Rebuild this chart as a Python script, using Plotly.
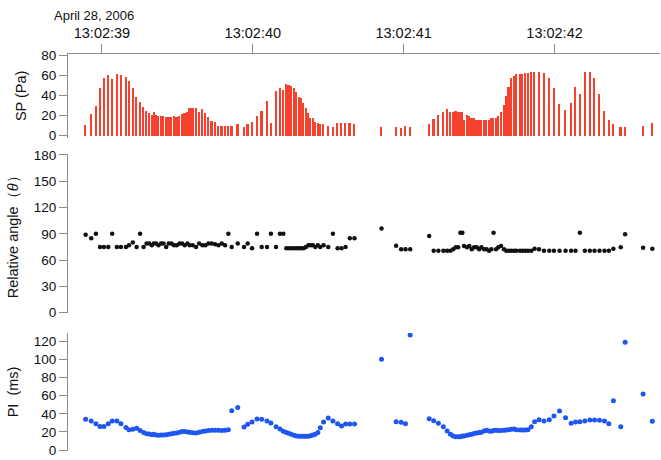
import plotly.graph_objects as go

# Pulse times in ms after 13:02:39 (April 28, 2006)
t_ms = [-108, -71, -40, -13, 13, 42, 68, 99, 126, 159, 179, 205, 230, 253, 276, 296, 313, 331, 344, 359,
        375, 392, 408, 426, 443, 461, 478, 496, 514, 531, 549, 567, 582, 602, 624, 644, 666, 686, 706, 728, 750,
        772, 794, 816, 838, 860, 900, 942, 966, 995, 1028, 1059, 1094, 1120, 1154, 1180, 1202, 1222, 1238, 1255,
        1273, 1289, 1306, 1322, 1337, 1352, 1368, 1383, 1398, 1414, 1431, 1447, 1469, 1500, 1531, 1562, 1588,
        1615, 1643, 1674,
        1853, 1950, 1983, 2012, 2043, 2169, 2199, 2230, 2263, 2288, 2310, 2328, 2345, 2361, 2376, 2389, 2400,
        2420, 2435, 2451, 2467, 2484, 2500, 2515, 2533, 2550, 2566, 2581, 2596, 2612, 2627, 2645, 2665, 2680,
        2696, 2713, 2731, 2746,
        2771, 2788, 2806, 2824, 2846, 2868, 2897, 2930, 2965, 2996, 3033, 3073, 3110, 3139, 3168, 3201, 3234,
        3265, 3298, 3331, 3360, 3390, 3439, 3468, 3587, 3648]

# Sound pressure (Pa)
sp = [10.7, 21.7, 29.7, 48, 58, 60.7, 56.7, 61.4, 60.4, 59, 55, 48, 39, 33.4, 29, 25, 22.4, 20.7, 23.4, 20.7,
      20, 19.4, 19.4, 18.7, 18.7, 18.7, 19.4, 18.7, 19.7, 21.4, 22.4, 23.4, 27.4, 27.4, 27.4, 24, 26.7, 22.4,
      18.4, 14.7, 14,
      10, 10, 10, 10, 10, 11.4, 9, 11.4, 13.4, 20, 24.7, 35, 13, 45, 47.4, 45.4, 52, 50.7, 50, 47.4, 43.4, 39,
      37.4, 32.4, 27.4, 22.4, 18, 17.4, 14, 12.4, 11.7, 11.4, 9.4, 9, 12.4, 12.4, 12.4, 12.4, 11.4,
      9, 9, 8, 9.5, 9, 11.7, 16.7, 20.7, 24, 26.7, 24, 24, 24.7, 23.4, 23.4, 23.4, 15.4, 20.7, 19.4, 18, 17.4,
      16, 16, 16, 16, 16, 15.7, 18, 18, 18, 20, 23.4, 30.7, 39.7, 48.4, 57.4, 59.7, 61.4,
      61.7, 62, 62.4, 62.7, 63.7, 63.7, 64, 62.4, 57.4, 47.4, 32, 25.7, 33, 48.7, 41.4, 64, 64, 58, 41.7,
      24.7, 15.4, 11.4, 8.7, 8.7, 9.4, 12.4]

# Relative angle (degrees)
angle = [89, 85, 90, 75, 75, 75, 90, 75, 75, 75, 77, 80, 75, 90, 75, 79, 79, 77, 79, 79,
         77, 79, 79, 75, 79, 79, 77, 77, 79, 79, 77, 79, 77, 77, 75, 79, 77, 77, 79, 79, 78,
         77, 79, 77, 90, 75, 79, 75, 79, 73.5, 90, 75, 75, 90, 75, 90, 90, 73.5, 73.5, 73.5, 73.5,
         73.5, 73.5, 73.5, 73.5, 75, 77, 77, 77, 75, 77, 75, 77, 75, 90, 73.5, 73.5, 75, 85, 85,
         96, 76.5, 72.3, 72.3, 72.3, 87.5, 70.8, 70.8, 70.8, 70.8, 70.8, 72.3, 74.6, 74.6, 91.3, 91.3,
         76, 74.6, 76, 72.3, 74.6, 74.6, 72.3, 74.6, 72.3, 72.3, 70.8, 72.3, 91.3, 72.3, 74.6, 76,
         72.3, 70.8, 70.8, 70.8, 70.8, 70.8,
         70.8, 70.8, 70.8, 70.8, 70.8, 73, 72.3, 70.8, 70.8, 70.8, 70.8, 70.8, 70.8, 70.8, 91.3,
         70.8, 70.8, 70.8, 70.8, 70.8, 70.8, 73, 74.6, 89.5, 74, 73]

# Pulse interval (ms)
pi = [34, 32, 29, 26, 26, 29, 32, 32, 29, 25, 22.5, 23, 24, 21.5, 19.5, 18, 17.8, 17, 17.5, 16.7,
      16.5, 16.7, 16.7, 17, 17.5, 18, 18.5, 19, 19.6, 20.4, 20.4, 20, 19.6, 19.2, 18.9, 19.6, 20.4, 21,
      21.5, 22, 22,
      21.9, 21.5, 21.9, 22.5, 43.4, 47, 25.4, 28.4, 31, 34.3, 34, 32, 30, 25.8, 23.2, 20.7, 19.3, 18.5,
      17.5, 16.4, 15.6, 15.4, 15.2, 15.2, 15.2, 15.4, 15.9, 16.7, 17.5, 19.3, 24.7, 31, 35.4, 32, 29,
      26.6, 28.8, 28.8, 28.8,
      100, 31.3, 30.7, 29.1, 126.6, 34.6, 32.4, 29.5, 25.8, 21.1, 17.5, 15.6, 14.9, 14.9, 14.9, 15.6,
      15.6, 16.4, 17, 17.5, 18.2, 18.9, 19.3, 19.6, 21.1, 21.9, 21, 20.7, 21.5, 21.9, 21.5, 21.5, 22,
      22.2, 22.5, 23, 23.2, 22.5,
      22.2, 22.2, 22.2, 22.5, 25.8, 31.3, 33.4, 32, 33.4, 37.5, 43, 35.7, 29.5, 31, 31.3, 32, 33.1,
      33.1, 32.8, 32, 29.1, 54.4, 25.8, 118.6, 61.8, 31.7]

tick_ms = [0, 1000, 2000, 3000]
tick_text = ["13:02:39", "13:02:40", "13:02:41", "13:02:42"]

AX = "#8c8c8c"
FONT = "Arial, Liberation Sans, sans-serif"

fig = go.Figure()
fig.add_trace(go.Bar(x=t_ms, y=sp, width=11, marker=dict(color="#F5412E", line_width=0),
                     xaxis="x", yaxis="y"))
fig.add_trace(go.Scatter(x=t_ms, y=angle, mode="markers",
                         marker=dict(color="#111111", size=4.5), xaxis="x2", yaxis="y2"))
fig.add_trace(go.Scatter(x=t_ms, y=pi, mode="markers",
                         marker=dict(color="#1F55F0", size=5), xaxis="x3", yaxis="y3"))

yax = dict(showline=True, linecolor=AX, linewidth=1, ticks="outside", ticklen=8, tickcolor=AX,
           showgrid=False, zeroline=False, tickfont=dict(size=13.5, color="#111"),
           title_font=dict(size=14.5, color="#111"), title_standoff=11)

fig.update_layout(
    width=661, height=460, margin=dict(l=68, r=1, t=54, b=9),
    paper_bgcolor="white", plot_bgcolor="white", showlegend=False,
    font=dict(family=FONT, color="#111"),
    bargap=0,
    xaxis=dict(domain=[0, 1], anchor="y", side="top", range=[-225, 3699],
               showline=True, linecolor=AX, linewidth=1, ticks="outside", ticklen=9, tickcolor=AX,
               tickvals=tick_ms, ticktext=tick_text, tickfont=dict(size=14.5, color="#111"),
               showgrid=False, zeroline=False),
    xaxis2=dict(domain=[0, 1], anchor="y2", matches="x", visible=False),
    xaxis3=dict(domain=[0, 1], anchor="y3", matches="x", visible=False),
    yaxis=dict(domain=[0.7892, 1], range=[-2, 81.7], tickvals=[0, 20, 40, 60, 80],
               title_text="SP (Pa)", **yax),
    yaxis2=dict(domain=[0.3474, 0.7489], range=[-0.5, 181.5], tickvals=[0, 30, 60, 90, 120, 150, 180],
                title_text="Relative angle（<i>θ</i>）", **yax),
    yaxis3=dict(domain=[0, 0.2972], range=[-0.9, 128.8], tickvals=[0, 20, 40, 60, 80, 100, 120],
                title_text="PI  (ms)", **yax),
    annotations=[dict(text="April 28, 2006", xref="paper", yref="paper", x=-0.027, y=1.098,
                      xanchor="left", yanchor="middle", showarrow=False,
                      font=dict(size=13, color="#111"))],
)

fig.write_html("out.html")
